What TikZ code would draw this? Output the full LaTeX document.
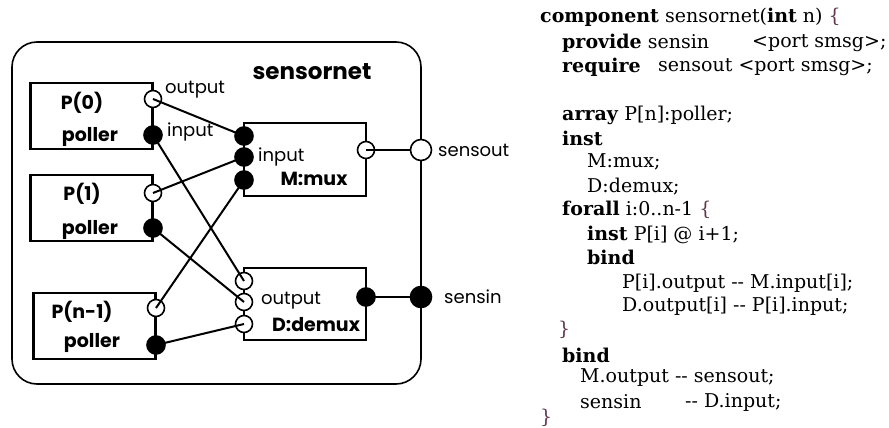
\documentclass[tikz,border=0pt]{standalone}
\usepackage{fontspec}
\setmainfont{DejaVu Serif}
\newfontfamily\diagfont{Poppins}
\usepackage{tikz}
\usetikzlibrary{positioning,calc}
\definecolor{bracecol}{RGB}{95,55,75}

\begin{document}
\begin{tikzpicture}[
  x=1pt, y=-1pt,
  every node/.style={font=\diagfont\fontsize{18}{20}\selectfont},
  unit/.style={draw, line width=2.4pt, minimum width=122pt, minimum height=66pt, inner sep=0pt},
  openport/.style={circle, draw, line width=1.6pt, fill=white, minimum size=17pt, inner sep=0pt},
  fullport/.style={circle, draw, line width=1.6pt, fill=black, minimum size=18pt, inner sep=0pt},
  bigopen/.style={openport, minimum size=21pt},
  bigfull/.style={fullport, minimum size=21pt},
  unitlbl/.style={font=\diagfont\bfseries\fontsize{19}{21}\selectfont, inner sep=0pt},
  portlbl/.style={anchor=west, inner sep=0pt},
  wire/.style={line width=2pt},
  code/.style={font=\fontsize{19}{21}\selectfont, anchor=west, inner sep=0pt}
]
\useasboundingbox (0,0) rectangle (889,428);

% the sensornet component
\draw[line width=1.6pt, rounded corners=25pt] (12,42) rectangle (421,384);
\node[font=\diagfont\bfseries\fontsize{23}{25}\selectfont] (title) at (312,72) {sensornet};

% pollers
\node[unit] (p0) at (91.5,116) {};
\node[unit] (p1) at (91.5,208) {};
\node[unit] (pn) at (94.5,326) {};
\node[unitlbl] (p0name) at (82,103) {P(0)};
\node[unitlbl] (p0type) at (90,137) {poller};
\node[unitlbl] (p1name) at (82,194) {P(1)};
\node[unitlbl] (p1type) at (90,230) {poller};
\node[unitlbl] (pnname) at (82,312) {P(n-1)};
\node[unitlbl] (pntype) at (92,343) {poller};

% mux and demux
\node[unit, minimum height=73pt] (mux) at (305,159.5) {};
\node[unit, minimum height=72pt] (demux) at (305,304) {};
\node[unitlbl] (muxname) at (314,179) {M:mux};
\node[unitlbl] (demuxname) at (316,325) {D:demux};

% ports
\node[openport] (p0out) at (153,99) {};
\node[fullport] (p0in) at (153,135) {};
\node[openport] (p1out) at (153,193) {};
\node[fullport] (p1in) at (153,228) {};
\node[openport] (pnout) at (156,308) {};
\node[fullport] (pnin) at (156,345) {};
\node[fullport] (muxin0) at (244,136) {};
\node[fullport] (muxin1) at (244,157) {};
\node[fullport] (muxin2) at (244,180) {};
\node[openport] (muxout) at (366,150) {};
\node[openport] (dmxout0) at (244,281) {};
\node[openport] (dmxout1) at (244,302) {};
\node[openport] (dmxout2) at (244,324) {};
\node[fullport] (dmxin) at (366,297) {};
\node[bigopen] (sensout) at (421,150) {};
\node[bigfull] (sensin) at (421,297) {};

\node[portlbl] (outlbl) at (165,90) {output};
\node[portlbl] (inlbl) at (167,132) {input};
\node[portlbl] (muxinlbl) at (258,157) {input};
\node[portlbl] (dmxoutlbl) at (261,301) {output};
\node[portlbl] (sensoutlbl) at (438,150) {sensout};
\node[portlbl] (sensinlbl) at (444,297) {sensin};

% bindings
\draw[wire] (p0out.center) -- (muxin0.center);
\draw[wire] (p1out.center) -- (muxin1.center);
\draw[wire] (pnout.center) -- (muxin2.center);
\draw[wire] (dmxout0.center) -- (p0in.center);
\draw[wire] (dmxout1.center) -- (p1in.center);
\draw[wire] (dmxout2.center) -- (pnin.center);
\draw[wire] (muxout.center) -- (sensout);
\draw[wire] (dmxin.center) -- (sensin.center);

% the source text
\node[code] (c1) at (540,17) {\textbf{component} sensornet(\textbf{int} n) {\color{bracecol}\{}};
\node[code] (c2) at (562,43) {\textbf{provide} sensin};
\node[code] (c2t) at (752,43) {<port smsg>;};
\node[code] (c3) at (562,67) {\textbf{require}};
\node[code] (c3t) at (658,67) {sensout <port smsg>;};
\node[code] (c5) at (562,115) {\textbf{array} P[n]:poller;};
\node[code] (c6) at (562,138) {\textbf{inst}};
\node[code] (c7) at (587,162) {M:mux;};
\node[code] (c8) at (587,187) {D:demux;};
\node[code] (c9) at (562,210) {\textbf{forall} i:0..n-1 {\color{bracecol}\{}};
\node[code] (c10) at (587,235) {\textbf{inst} P[i] @ i+1;};
\node[code] (c11) at (587,257) {\textbf{bind}};
\node[code] (c12) at (622,283) {P[i].output -{}- M.input[i];};
\node[code] (c13) at (622,306) {D.output[i] -{}- P[i].input;};
\node[code] (c14) at (558,330) {\color{bracecol}\}};
\node[code] (c15) at (562,355) {\textbf{bind}};
\node[code] (c16) at (580,378) {M.output -{}- sensout;};
\node[code] (c17) at (580,402) {sensin};
\node[code] (c17t) at (685,402) {-{}- D.input;};
\node[code] (c18) at (540,418) {\color{bracecol}\}};
\end{tikzpicture}
\end{document}
